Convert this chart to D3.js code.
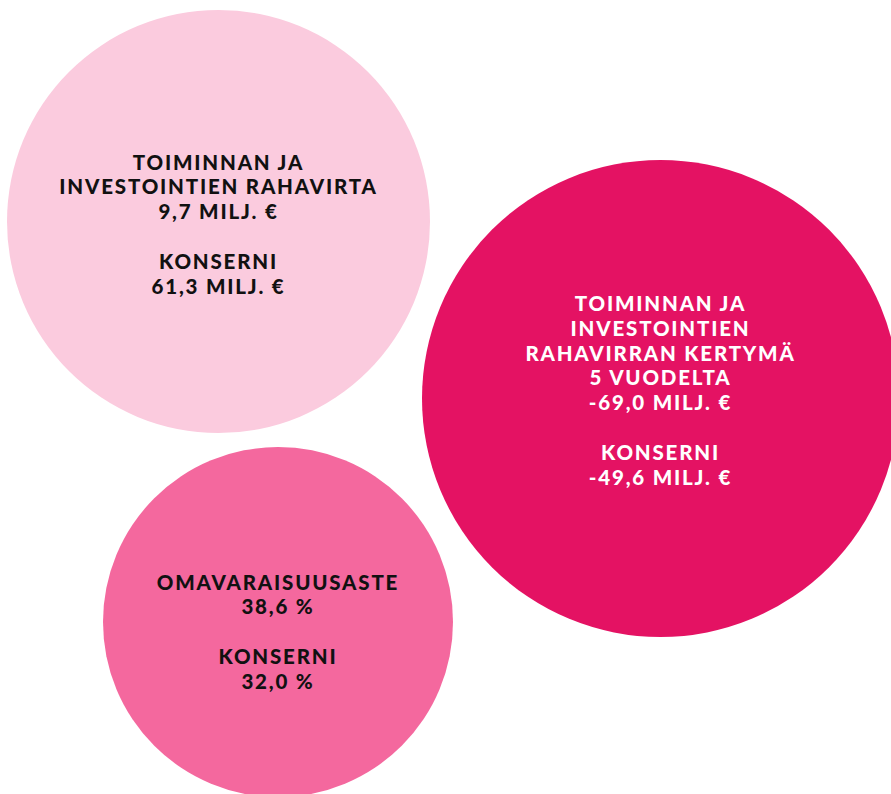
<!DOCTYPE html>
<html>
<head>
<meta charset="utf-8">
<script src="https://cdn.jsdelivr.net/npm/d3@7"></script>
<style>
  body { margin: 0; background: #fff; }
  svg text { font-family: Lato, "Open Sans", sans-serif; font-weight: 900; }
</style>
</head>
<body>
<div id="chart"></div>
<script>
// key figures, one bubble each
var titles = [
  ["TOIMINNAN JA", "INVESTOINTIEN RAHAVIRTA"],
  ["TOIMINNAN JA", "INVESTOINTIEN", "RAHAVIRRAN KERTYMÄ", "5 VUODELTA"],
  ["OMAVARAISUUSASTE"]
];
var ownValues = ["9,7 MILJ. €", "-69,0 MILJ. €", "38,6 %"];
var groupLabel = "KONSERNI";
var groupValues = ["61,3 MILJ. €", "-49,6 MILJ. €", "32,0 %"];

var width = 891, height = 794;

// bubble layout (centre, radius, first baseline offset) and colours
var layout = [
  { cx: 218.5, cy: 221.5, r: 211.5, top: -52, fill: "#fbcbde", ink: "#111" },
  { cx: 660.5, cy: 398.5, r: 238.5, top: -87.5, fill: "#e41263", ink: "#fff" },
  { cx: 278, cy: 622, r: 175, top: -32.5, fill: "#f4689e", ink: "#111" }
];
var lineH = 24.8;

var svg = d3.select("#chart").append("svg")
  .attr("width", width)
  .attr("height", height);

var bubbles = svg.selectAll("g.bubble")
  .data(titles.map(function(t, i) {
    var lines = t.concat([ownValues[i], "", groupLabel, groupValues[i]]);
    return Object.assign({ lines: lines }, layout[i]);
  }))
  .enter().append("g")
  .attr("class", "bubble")
  .attr("transform", function(d) { return "translate(" + d.cx + "," + d.cy + ")"; });

bubbles.append("circle")
  .attr("r", function(d) { return d.r; })
  .attr("fill", function(d) { return d.fill; });

bubbles.each(function(d) {
  var g = d3.select(this);
  g.selectAll("text")
    .data(d.lines)
    .enter().append("text")
    .attr("text-anchor", "middle")
    .attr("y", function(l, i) { return d.top + i * lineH; })
    .attr("fill", d.ink)
    .style("font-size", "20.5px")
    .style("letter-spacing", "1.8px")
    .text(function(l) { return l; });
});
</script>
</body>
</html>
